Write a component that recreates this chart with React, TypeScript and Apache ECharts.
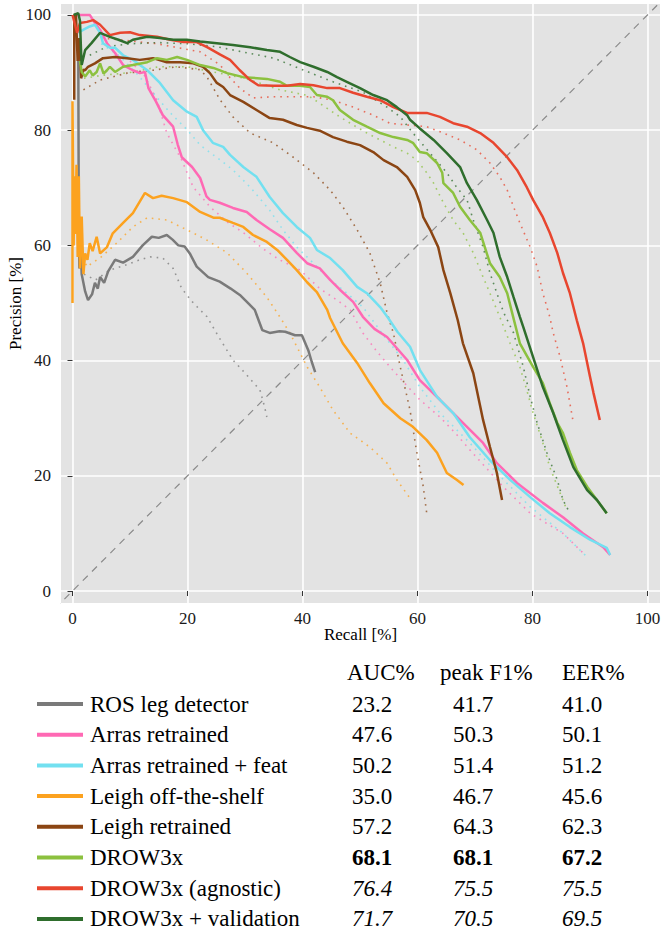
import React, { useEffect, useRef } from "react";
import * as echarts from "echarts";

// ---------- data (recall %, precision %) ----------
const tickValues = [0, 20, 40, 60, 80, 100];

const methodNames = [
  "ROS leg detector",
  "Arras retrained",
  "Arras retrained + feat",
  "Leigh off-the-shelf",
  "Leigh retrained",
  "DROW3x",
  "DROW3x (agnostic)",
  "DROW3x + validation",
];
const methodColors = ["#7a7a7a", "#ff69b4", "#72e0f0", "#fca21f", "#8b4513", "#8cc13f", "#e8462f", "#2f6e2d"];
const aucValues = [23.2, 47.6, 50.2, 35.0, 57.2, 68.1, 76.4, 71.7];
const f1Values = [41.7, 50.3, 51.4, 46.7, 64.3, 68.1, 75.5, 70.5];
const eerValues = [41.0, 50.1, 51.2, 45.6, 62.3, 67.2, 75.5, 69.5];
const rowStyles = ["normal", "normal", "normal", "normal", "normal", "bold", "italic", "italic"];
const tableHeaders = ["AUC%", "peak F1%", "EER%"];

const rosSolid = [
  [1.0, 95.5], [1.1, 62], [1.2, 56], [1.4, 60], [1.6, 55], [2.2, 52], [2.7, 50.5], [3.4, 51.5], [3.9, 53.5], [4.4, 52.5],
  [4.8, 54.5], [5.5, 53.5], [6.2, 55.5], [7.4, 57.5], [8.8, 57], [10.5, 58], [12.2, 60], [13.8, 61.5], [15, 61.3], [16.4, 61.8],
  [17.4, 61], [18.4, 60], [19.5, 59.8], [20.4, 58.6], [21.6, 56.3], [23.6, 54.5], [25.6, 53.7], [27.5, 52.5], [29.1, 51.4],
  [30.5, 50], [31.7, 48.8], [33, 45.3], [34.3, 44.8], [36, 45.1], [37, 45], [38.7, 44.4], [39.9, 44.4], [41, 41.8], [41.6, 39.8], [42.2, 38],
];
const rosDotted = [
  [2, 55], [4, 54], [6.5, 55.7], [9, 56.5], [11.7, 57.5], [13.5, 58], [15.7, 57.8], [17.5, 56], [19, 52.5], [21, 50],
  [23.4, 47.6], [25.5, 44], [27.9, 40.1], [30.3, 37.5], [32.6, 34.9], [33.4, 32], [33.8, 30.2],
];
const arrasSolid = [
  [0.3, 100], [3, 100], [3.9, 98.6], [4.8, 97.4], [6, 95.1], [7.4, 93.4], [8.8, 91.3], [10.5, 90.4], [11.7, 89.9], [12.6, 90.1],
  [13.2, 87.3], [14.5, 85], [15.7, 82.6], [17.5, 80.6], [18.3, 77.5], [19, 75.3], [20.8, 73.6], [22.2, 71.7], [23.3, 68.5], [23.9, 67.9],
  [25.6, 67.4], [27.9, 66.5], [30.3, 65.8], [32, 64.4], [34.3, 62.8], [36.6, 61.3], [39, 58.7], [40.8, 56.9], [43, 56], [44.8, 54],
  [46.5, 52.3], [48.8, 50.2], [50.5, 47.6], [52.5, 45.5], [54.7, 44.1], [58.2, 40.1], [60.4, 36.6], [63.9, 33.2], [67.9, 29.2],
  [71.4, 25.7], [73.8, 22.2], [77.3, 18.75], [81.8, 15.3], [85.3, 12.8], [88.8, 10], [92.3, 7.6], [93.5, 6.25],
];
const arrasDotted = [
  [10, 92], [12.5, 89.5], [14.7, 85.2], [16.4, 79.5], [19, 74.8], [21, 70.1], [23.9, 66.7], [27, 64], [30, 62], [33, 59.5],
  [36, 57.5], [39.6, 55.7], [43, 52.5], [46, 50.5], [48.3, 48.8], [50.5, 44.8], [53, 41.5], [56, 38], [60.4, 33.2], [63.9, 30.2],
  [66.5, 27.5], [69.1, 24.5], [72, 21.3], [74.9, 18.1], [79.6, 13.5], [85.3, 10], [88.8, 6.6],
];
const featSolid = [
  [1, 96.9], [2, 97.5], [3, 98], [3.9, 98.3], [4.8, 96.9], [5.3, 95.1], [6.5, 94.3], [7.4, 94.3], [8.8, 93], [10.5, 92.2],
  [13, 90.4], [15.2, 88.2], [17.5, 85.2], [19.9, 83.2], [21.6, 82.3], [22.7, 80], [24.4, 77.8], [26.2, 77.1], [27.4, 75.7],
  [29.7, 73.6], [32, 71.9], [34.3, 68.4], [36.6, 65.6], [39, 63.2], [41.3, 61.3], [42.5, 59.2], [44.8, 57.8], [47, 55.7],
  [49.5, 52.8], [51.2, 51.7], [53.5, 49.3], [54.9, 47.4], [56.5, 45], [58.7, 42.4], [60.4, 38.4], [63.4, 33.7], [66.2, 30.9],
  [69.1, 26.7], [72.6, 22.7], [76.1, 19.3], [79.6, 16.3], [83, 13.5], [86.5, 11.1], [90, 8.9], [92.9, 7.5], [93.5, 6.25],
];
const featDotted = [
  [5, 95], [8, 93], [11, 90], [14, 86.5], [17, 83], [20, 80], [22.2, 77.4], [25.7, 74.8], [27.9, 73.1], [30.9, 70.1],
  [34.3, 66.1], [36.6, 62.7], [39, 59.7], [41.3, 57.5], [44.3, 54.5], [47.7, 51.7], [50.5, 49.3], [54, 44.5], [57.5, 40.1],
  [60.4, 35.4], [63.9, 30.9], [66.5, 28.3], [69.1, 25.7], [73.8, 20.5], [79.6, 14.6], [85.3, 10], [89.5, 5.9],
];
const leighSolid = [
  [0, 50], [0, 85], [0.2, 60], [0.3, 72], [0.5, 62], [0.7, 74], [0.9, 58], [1.1, 72], [1.3, 56], [1.6, 65], [1.9, 55],
  [2.2, 58.6], [2.6, 57.5], [3, 60.4], [3.5, 59], [4.2, 61.5], [4.8, 58.6], [6, 59.7], [7, 62.1], [8.8, 63.9], [10.5, 65.6],
  [12.6, 69.1], [14, 68.2], [15.5, 68.6], [17.5, 68.2], [19.9, 67.5], [22.2, 65.8], [24.5, 64.8], [25.6, 64.8], [27.9, 63.9],
  [29.7, 63.2], [31.4, 61.8], [33.8, 60.6], [35.6, 59.2], [37.3, 57.5], [39, 55.7], [40.8, 53.6], [42.5, 51.9], [44.3, 48.8],
  [44.8, 47.4], [47, 43], [49.5, 39.6], [51.7, 36.1], [54.1, 32.6], [57, 30], [59.2, 28.5], [61.6, 26.2], [63.4, 24],
  [65.1, 20.5], [66.8, 19.3], [68, 18.4],
];
const leighDotted = [
  [1, 60], [2.5, 56.3], [5, 58], [7.7, 60.4], [10.5, 63.2], [13, 64.8], [16.4, 64.4], [19.9, 62.7], [23.4, 60.9], [26.9, 58.7],
  [30.3, 55.2], [33.8, 51], [35.6, 48.3], [37.8, 44.8], [40.8, 38.9], [43, 35.4], [45.3, 31.4], [48.3, 27.4], [51.7, 25],
  [54.7, 22.2], [56.4, 19.3], [58.7, 16.1],
];
const leighRtSolid = [
  [0.3, 85.3], [0.3, 100], [0.6, 100], [0.9, 92], [1.2, 96], [1.5, 89], [1.9, 90.5], [2.2, 90.4], [2.7, 91], [3.9, 91.6],
  [5.3, 92.5], [7.4, 92.7], [9.5, 92.5], [11.7, 92.2], [14, 92.5], [16.4, 91.8], [18.7, 91.8], [21, 91.6], [22.7, 91],
  [23.9, 89.9], [25.1, 88.2], [26.2, 87.5], [27.4, 86.1], [29.7, 84.9], [32, 83.5], [34.3, 82.1], [36.6, 81.8], [39, 80.9],
  [40.8, 80.4], [43, 79.9], [45.3, 78.8], [47.7, 78], [50, 77.4], [52.3, 76.2], [54.1, 74.8], [56.4, 73.6], [58.2, 71.9],
  [59.6, 69.6], [60.4, 67.4], [61, 64.9], [62.2, 62.7], [63.6, 59.7], [64.5, 55.7], [65.7, 51.7], [67, 47], [67.9, 43],
  [69.7, 37.8], [71.4, 29.7], [72.6, 25], [73.8, 20.5], [74.7, 15.8],
];
const leighRtDotted = [
  [1.9, 87], [4.8, 88.7], [9.5, 89.9], [14, 90.4], [18, 91], [22.2, 90.5], [23.4, 89.2], [25.7, 85.2], [27.9, 82.3],
  [30.9, 79.5], [34.9, 77.8], [38.4, 75.3], [41.9, 72.6], [44.8, 69.6], [47, 66.7], [49.5, 62.7], [51.7, 58.7], [53.5, 53.5],
  [54.7, 48.3], [55.8, 44.8], [57, 38.9], [58.7, 31.4], [59.8, 24.5], [61, 18.1], [61.6, 13.5],
];
const drowSolid = [
  [1.3, 92], [1.6, 90.1], [2.2, 89.3], [3, 90.4], [3.5, 89.5], [4.2, 90.1], [4.8, 91.6], [5.4, 89.8], [6, 90.4], [6.5, 91],
  [7.4, 90.1], [8.8, 91], [10.5, 91.3], [13, 91.8], [14.7, 92.5], [16.4, 92.2], [18.2, 92.7], [19.9, 92.2], [22.2, 91.3],
  [24.5, 90.8], [26.9, 89.9], [29.7, 89.2], [33.8, 88.9], [36.1, 88.4], [37.3, 87.7], [39.6, 87.7], [41.3, 87.5], [42.5, 86.1],
  [44.3, 85.8], [45.3, 85.2], [46.5, 83.5], [48.8, 81.8], [51.2, 80.6], [53.5, 79.5], [55.8, 78.8], [58.2, 78.3], [59.2, 77.8],
  [60.4, 76.2], [61.6, 76], [63.4, 74.3], [64.3, 72.6], [64.5, 70.8], [66.2, 69.1], [67.4, 66.7], [69.1, 64.4], [70.9, 62.2],
  [71.7, 59.7], [72.6, 56.9], [74.3, 54.5], [75.6, 51.7], [76.4, 48.5], [77.8, 43], [80.1, 38.9], [81.8, 36.1], [83, 32.6],
  [84.3, 29.2], [85.3, 27.4], [86.5, 24], [87.7, 21], [89.5, 18.1], [91.2, 15.8], [92.9, 13.5],
];
const drowDotted = [
  [2, 89], [5, 89.5], [10, 90], [15, 91], [20, 91], [25, 90], [30, 89], [36.1, 87], [41, 86], [46.5, 82.3], [48.8, 80.9],
  [51.2, 79.5], [53.5, 78.3], [55.8, 77.1], [58.2, 76], [59.9, 74.8], [61.6, 72.6], [62.8, 70.8], [64.5, 67.4], [66.2, 64.4],
  [67.9, 62.2], [69.7, 58.7], [71.4, 54.5], [72.6, 51.7], [74.3, 47.6], [76.1, 43], [77.8, 38.9], [79, 34.9], [80.1, 30.9],
  [81.8, 25.7], [83, 21.5], [84.8, 17], [86, 14],
];
const agnosticSolid = [
  [0, 100], [0.8, 96.9], [1.3, 98.6], [2.5, 98.8], [3.6, 99.1], [4.8, 98.3], [6.5, 96.5], [8.3, 96.9], [10, 97], [11.7, 96.5],
  [14.7, 96.2], [17, 95.7], [19.3, 95.3], [21.6, 95.3], [23.4, 94.4], [25.7, 93.1], [27.4, 92.2], [29.1, 90.4], [30.9, 88.7],
  [32.3, 87.8], [34.9, 87.7], [37.3, 87.7], [39.6, 88], [41.9, 87.8], [44.3, 87.3], [46.5, 87.3], [48.8, 86.5], [51.2, 85.8],
  [53.5, 85.2], [55.8, 84], [58.2, 83], [61.6, 83], [63.9, 82.3], [66.2, 81.2], [68.6, 80.6], [70.9, 79.5], [73.2, 77.8],
  [75.6, 75.3], [77.3, 73.1], [79, 70.1], [80.1, 67.9], [81.8, 64.9], [83, 62.2], [84.3, 58.7], [85.3, 55.2], [86.5, 51.7],
  [87.7, 47], [88.8, 43], [90, 37.2], [90.6, 34.4], [91.7, 29.7],
];
const agnosticDotted = [
  [5, 96], [10, 95.5], [14.7, 95], [20, 94], [22.2, 93.6], [25.7, 91.3], [27.4, 89.1], [29.1, 87.3], [31.4, 85.6], [34.9, 85.8],
  [38.4, 85.8], [41.9, 85.8], [45.3, 85.2], [48.8, 84], [52.3, 82.6], [55.2, 81.2], [58.2, 80.9], [61.6, 80.6], [64.5, 79.5],
  [67.4, 78.3], [70.3, 76.6], [72.6, 74.3], [74.3, 71.9], [75.6, 69.6], [76.7, 66.7], [77.8, 63.9], [79.6, 59.7], [80.8, 56.3],
  [81.8, 51.7], [83, 47.6], [83.6, 44.8], [84.8, 40.6], [86, 35.4], [87.1, 29.2],
];
const validationSolid = [
  [0.2, 100], [1, 100.3], [1.3, 99], [1.5, 93.4], [1.6, 91.3], [2.2, 93.9], [3.3, 95.1], [4.8, 96.9], [6.5, 96.2], [8, 95.7],
  [9.5, 95.1], [10.5, 95.7], [13, 96.2], [15.2, 96], [17.5, 95.7], [19.9, 95.7], [22.2, 95.4], [25.1, 95.1], [27.9, 94.8],
  [30.9, 94.4], [33.8, 93.9], [36.1, 93.6], [37.8, 92.7], [39.6, 91.8], [41.9, 91], [44.3, 90.1], [46, 89.2], [47.7, 88.4],
  [50, 87.3], [52.3, 86.1], [54.7, 85.2], [56.4, 84], [58.2, 82.6], [58.7, 81.8], [60.4, 80.3], [62.8, 78.3], [65.1, 76],
  [67.4, 73.6], [68.6, 70.8], [70.3, 67.9], [72.1, 64.4], [73.2, 62.2], [74.3, 58], [75.6, 54.5], [76.7, 51], [77.8, 47.6],
  [78.4, 45.8], [80.1, 40.6], [81.8, 35.4], [83.6, 30.9], [85.3, 26.2], [87.1, 21.5], [89.5, 17.5], [91.2, 15.8], [92.9, 13.5],
];
const validationDotted = [
  [3, 93], [6, 94.5], [10, 95], [15, 95.2], [20, 95], [25, 94.5], [30, 93.5], [35, 92.5], [40, 90.5], [45, 88.5], [50.5, 86.6],
  [54.7, 84], [57, 82.3], [59.2, 79.5], [62.2, 76], [65.1, 72.6], [66.8, 70.1], [68.6, 67.9], [69.7, 64.4], [71.4, 59.7],
  [72.6, 55.2], [73.8, 51.7], [75, 48.3], [76.7, 44.8], [78.4, 38.9], [79.6, 33.7], [80.8, 29.2], [82.5, 24], [84.3, 19.3],
  [85.3, 15.8], [86.5, 13.5],
];

const solidCurves = [rosSolid, arrasSolid, featSolid, leighSolid, leighRtSolid, drowSolid, agnosticSolid, validationSolid];
const dottedCurves = [rosDotted, arrasDotted, featDotted, leighDotted, leighRtDotted, drowDotted, agnosticDotted, validationDotted];
const diagonal = [[-3, -3], [105, 105]];

const SERIF = "Liberation Serif";

function buildTable() {
  const els: any[] = [];
  const headerX = [347, 440, 562];
  const numX = [352, 453, 562];
  const headerY = 672;
  const rowY0 = 704;
  const rowStep = 30.7;
  const fs = 23;
  tableHeaders.forEach((h, i) => {
    els.push({
      type: "text",
      x: headerX[i],
      y: headerY,
      style: { text: h, fontSize: fs, fontFamily: SERIF, fill: "#000", align: "left", verticalAlign: "middle" },
    });
  });
  methodNames.forEach((name, r) => {
    const y = rowY0 + r * rowStep;
    els.push({
      type: "line",
      shape: { x1: 37, y1: y, x2: 83, y2: y },
      style: { stroke: methodColors[r], lineWidth: 4 },
    });
    els.push({
      type: "text",
      x: 90,
      y,
      style: { text: name, fontSize: fs, fontFamily: SERIF, fill: "#000", align: "left", verticalAlign: "middle" },
    });
    [aucValues[r], f1Values[r], eerValues[r]].forEach((v, c) => {
      els.push({
        type: "text",
        x: numX[c],
        y,
        style: {
          text: v.toFixed(1),
          fontSize: fs,
          fontFamily: SERIF,
          fontWeight: rowStyles[r] === "bold" ? "bold" : "normal",
          fontStyle: rowStyles[r] === "italic" ? "italic" : "normal",
          fill: "#000",
          align: "left",
          verticalAlign: "middle",
        },
      });
    });
  });
  return els;
}

export default function App() {
  const ref = useRef<HTMLDivElement>(null);
  useEffect(() => {
    if (!ref.current) return;
    const chart = echarts.init(ref.current, undefined, { renderer: "svg" });
    const axisCommon = {
      type: "value" as const,
      axisLine: { show: false },
      axisTick: { show: true, length: 5, lineStyle: { color: "#333", width: 1 }, customValues: tickValues },
      axisLabel: { customValues: tickValues, fontSize: 17, fontFamily: SERIF, color: "#1a1a1a" },
      splitLine: { show: true, lineStyle: { color: "#ffffff", width: 1.6 } },
      nameTextStyle: { fontSize: 17, fontFamily: SERIF, color: "#000" },
      nameMoveOverlap: false,
    };
    const series: any[] = [
      {
        type: "line",
        data: diagonal,
        showSymbol: false,
        silent: true,
        lineStyle: { color: "#8a8a8a", width: 1.2, type: [7, 6] },
        z: 1,
      },
    ];
    dottedCurves.forEach((d, i) => {
      series.push({
        type: "line",
        name: methodNames[i] + " (dotted)",
        data: d,
        showSymbol: false,
        silent: true,
        lineStyle: { color: methodColors[i], width: 1.6, type: [1.6, 5], opacity: 0.75 },
        z: 2,
      });
    });
    solidCurves.forEach((d, i) => {
      series.push({
        type: "line",
        name: methodNames[i],
        data: d,
        showSymbol: false,
        silent: true,
        lineStyle: { color: methodColors[i], width: 2.5 },
        z: 3,
      });
    });
    chart.setOption({
      animation: false,
      grid: {
        left: 61,
        top: 4,
        width: 599,
        height: 599,
        show: true,
        backgroundColor: "#e3e3e3",
        borderWidth: 0,
        containLabel: false,
        outerBoundsMode: "none",
      },
      xAxis: {
        ...axisCommon,
        min: -2,
        max: 102.17,
        name: "Recall [%]",
        nameLocation: "middle",
        nameGap: 23,
        axisLabel: { ...axisCommon.axisLabel, margin: 7 },
      },
      yAxis: {
        ...axisCommon,
        min: -2.08,
        max: 101.9,
        name: "Precision [%]",
        nameLocation: "middle",
        nameGap: 37,
        axisLabel: { ...axisCommon.axisLabel, margin: 10 },
      },
      series,
      graphic: buildTable(),
    });
    return () => chart.dispose();
  }, []);
  return <div ref={ref} style={{ position: "absolute", left: 0, top: 0, width: 662, height: 931 }} />;
}
